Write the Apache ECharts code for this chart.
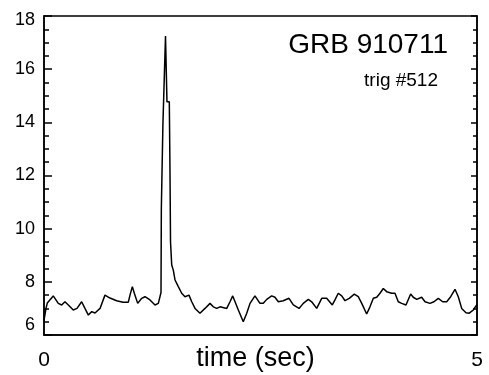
<!DOCTYPE html>
<html>
<head>
<meta charset="utf-8">
<script src="https://cdn.jsdelivr.net/npm/echarts@6/dist/echarts.min.js"></script>
<style>
html, body { margin: 0; padding: 0; background: #fff; }
#chart { width: 489px; height: 375px; }
</style>
</head>
<body>
<div id="chart"></div>
<script>
// time (sec) of each vertex of the light curve
var times = [0, 0.023, 0.038, 0.107, 0.165, 0.204, 0.242, 0.281, 0.338, 0.381, 0.435, 0.473, 0.512, 0.551, 0.589, 0.647, 0.704, 0.762, 0.839, 0.912,
    0.973, 0.993, 1.020, 1.043, 1.082, 1.128, 1.166, 1.224, 1.282, 1.320, 1.351, 1.355, 1.371, 1.373, 1.389, 1.403, 1.417, 1.420, 1.447, 1.455,
    1.461, 1.475, 1.493, 1.513, 1.551, 1.590, 1.628, 1.674, 1.706, 1.744, 1.801, 1.859, 1.917, 1.955, 1.994, 2.032, 2.110, 2.148, 2.179, 2.206,
    2.244, 2.301, 2.341, 2.379, 2.436, 2.494, 2.532, 2.572, 2.629, 2.667, 2.706, 2.763, 2.829, 2.879, 2.945, 2.994, 3.052, 3.091, 3.149, 3.207,
    3.264, 3.329, 3.360, 3.398, 3.438, 3.476, 3.525, 3.583, 3.629, 3.669, 3.726, 3.764, 3.803, 3.842, 3.880, 3.918, 3.957, 4.015, 4.053, 4.091,
    4.130, 4.180, 4.234, 4.264, 4.304, 4.361, 4.400, 4.457, 4.503, 4.553, 4.604, 4.650, 4.696, 4.746, 4.784, 4.823, 4.873, 4.911, 4.957, 5.0];

// counts at those times
var counts = [6.55, 7.0, 7.2, 7.47, 7.19, 7.13, 7.25, 7.13, 6.94, 7.0, 7.25, 7.0, 6.75, 6.88, 6.83, 7.0, 7.5, 7.39, 7.29, 7.23,
    7.23, 7.5, 7.82, 7.57, 7.19, 7.38, 7.44, 7.32, 7.13, 7.19, 7.6, 10.76, 10.8, 13.9, 13.95, 17.25, 17.3, 14.77, 14.77, 12.1,
    9.5, 8.63, 8.44, 8.07, 7.82, 7.57, 7.44, 7.5, 7.25, 7.0, 6.82, 7.0, 7.19, 7.06, 7.0, 7.06, 7.0, 7.25, 7.47, 7.25,
    6.94, 6.5, 6.82, 7.19, 7.47, 7.19, 7.19, 7.34, 7.47, 7.42, 7.25, 7.29, 7.38, 7.13, 7.0, 7.19, 7.34, 7.25, 7.0, 7.38,
    7.38, 7.13, 7.32, 7.57, 7.47, 7.29, 7.38, 7.54, 7.44, 7.19, 6.79, 7.06, 7.38, 7.42, 7.57, 7.75, 7.63, 7.57, 7.57, 7.25,
    7.19, 7.13, 7.54, 7.42, 7.34, 7.42, 7.25, 7.19, 7.25, 7.38, 7.25, 7.25, 7.44, 7.72, 7.44, 7.0, 6.84, 6.82, 6.94, 7.15];

var xTicks = [0, 5];
var yTicks = [6, 8, 10, 12, 14, 16, 18];
var titleText = 'GRB 910711';
var subText = 'trig #512';
var xName = 'time (sec)';

var FONT = '"Liberation Sans", Arial, Helvetica, sans-serif';

var points = [];
for (var i = 0; i < times.length; i++) {
    points.push([times[i], counts[i]]);
}

var chart = echarts.init(document.getElementById('chart'), null, { renderer: 'canvas' });

var option = {
    animation: false,
    backgroundColor: '#fff',
    grid: {
        left: 44,
        right: 12,
        top: 16,
        bottom: 40,
        outerBoundsMode: 'none',
        containLabel: false,
        show: true,
        borderColor: '#000',
        borderWidth: 1.5,
        backgroundColor: 'transparent'
    },
    xAxis: {
        type: 'value',
        min: xTicks[0],
        max: xTicks[xTicks.length - 1],
        interval: xTicks[1] - xTicks[0],
        name: xName,
        nameLocation: 'middle',
        nameGap: 10,
        nameMoveOverlap: false,
        nameTextStyle: { color: '#000', fontSize: 27, fontFamily: FONT, padding: [0, 10, 0, 0] },
        axisLine: { show: true, lineStyle: { color: '#000', width: 1.5 } },
        axisTick: { show: false },
        splitLine: { show: false },
        axisLabel: {
            color: '#000',
            fontSize: 21,
            fontFamily: FONT,
            margin: 15,
            formatter: function(v) { return String(v); }
        }
    },
    yAxis: [{
        type: 'value',
        min: yTicks[0],
        max: yTicks[yTicks.length - 1],
        interval: 2,
        axisLine: { show: true, lineStyle: { color: '#000', width: 1.5 } },
        axisTick: { show: true, inside: true, length: 8, lineStyle: { color: '#000', width: 1.5 } },
        minorTick: { show: true, splitNumber: 4, length: 5, lineStyle: { color: '#000', width: 1.5 } },
        splitLine: { show: false },
        axisLabel: {
            color: '#000',
            fontSize: 18,
            fontFamily: FONT,
            margin: 9,
            formatter: function(v) {
                if (v == yTicks[0]) return '{lo|' + v + '}';
                if (v == yTicks[yTicks.length - 1]) return '{hi|' + v + '}';
                return String(v);
            },
            rich: {
                lo: { color: '#000', fontSize: 18, fontFamily: FONT, padding: [0, 0, 20, 0] },
                hi: { color: '#000', fontSize: 18, fontFamily: FONT, padding: [8, 0, 0, 0] }
            }
        }
    }, {
        type: 'value',
        position: 'right',
        min: yTicks[0],
        max: yTicks[yTicks.length - 1],
        interval: 2,
        axisLine: { show: true, lineStyle: { color: '#000', width: 1.5 } },
        axisTick: { show: true, inside: true, length: 6, lineStyle: { color: '#000', width: 1.5 } },
        minorTick: { show: true, splitNumber: 4, length: 4, lineStyle: { color: '#000', width: 1.5 } },
        splitLine: { show: false },
        axisLabel: { show: false }
    }],
    graphic: [{
        type: 'text',
        x: 448,
        y: 45,
        style: {
            text: titleText,
            textAlign: 'right',
            textVerticalAlign: 'middle',
            fill: '#000',
            font: '28px ' + FONT
        }
    }, {
        type: 'text',
        x: 438,
        y: 81,
        style: {
            text: subText,
            textAlign: 'right',
            textVerticalAlign: 'middle',
            fill: '#000',
            font: '19px ' + FONT
        }
    }],
    series: [{
        type: 'line',
        data: points,
        showSymbol: false,
        symbol: 'none',
        lineStyle: { color: '#000', width: 1.5 },
        z: 3
    }]
};

chart.setOption(option);
</script>
</body>
</html>
